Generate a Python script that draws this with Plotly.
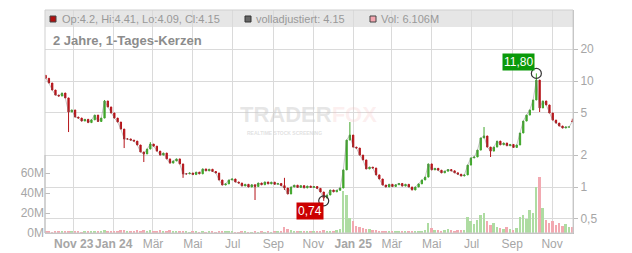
import numpy as np
import pandas as pd
import plotly.graph_objects as go

# ---------------- data ----------------
start_date = "2023-09-19"
step = "5D"

close = [
    10.6, 9.57, 8.22, 7.37, 7.21, 7.70, 6.92, 5.10, 5.33, 4.57,
    4.47, 4.19, 4.35, 4.05, 4.30, 4.77, 4.15, 4.47, 6.48, 5.69,
    4.99, 4.47, 4.10, 3.52, 2.84, 2.84, 2.77, 2.71, 2.49, 2.14,
    2.05, 2.28, 2.54, 2.43, 2.18, 2.00, 2.09, 1.84, 1.68, 1.76,
    1.84, 1.65, 1.33, 1.33, 1.355, 1.31, 1.38, 1.33, 1.48, 1.42,
    1.47, 1.40, 1.355, 1.164, 1.044, 1.07, 1.164, 1.19, 1.115, 1.09,
    1.022, 1.06, 1.00, 1.05, 1.01, 1.09, 1.05, 1.115, 1.07, 1.11,
    1.06, 1.08, 1.03, 0.978, 0.859, 1.0, 1.04, 0.99, 1.03, 0.98,
    1.02, 0.99, 1.01, 0.97, 0.897, 0.787, 0.84, 0.937, 0.90, 0.93,
    0.978, 1.45, 2.77, 3.09, 2.38, 2.33, 2.00, 1.80, 1.48, 1.54,
    1.51, 1.30, 1.19, 1.044, 1.00, 1.06, 1.01, 1.05, 1.08, 1.02,
    1.06, 1.0, 0.937, 1.0, 1.07, 1.164, 1.24, 1.65, 1.45, 1.50,
    1.44, 1.36, 1.41, 1.46, 1.42, 1.36, 1.32, 1.27, 1.30, 1.61,
    1.88, 1.92, 2.23, 2.90, 3.03, 2.38, 2.18, 2.38, 2.71, 2.50,
    2.60, 2.45, 2.52, 2.36, 2.49, 3.23, 4.19, 4.77, 5.33, 6.62,
    10.2, 5.57, 6.48, 5.94, 4.99, 4.28, 4.01, 3.76, 3.60, 3.68,
    3.68, 4.15,
]
first_open = 11.3
last_open = 4.2

wick_high = {18: 6.62, 32: 2.65, 73: 1.22, 93: 4.10, 134: 3.68, 150: 11.80, 161: 4.41}
wick_low = {7: 3.30, 24: 2.33, 30: 1.72, 42: 1.22, 64: 0.754, 73: 0.937, 85: 0.74,
            136: 1.92, 151: 5.10, 161: 4.09}

volume_m = [
    1.2, 1.5, 1.0, 1.8, 1.3, 1.1, 2.0, 2.5, 1.6, 1.4, 1.2, 1.0, 1.3, 1.5, 1.2, 1.8, 1.4, 2.2,
    3.0, 2.2, 1.8, 2.5, 2.0, 2.8, 3.2, 2.4, 2.0, 1.8, 2.6, 2.2, 3.0, 2.4, 3.5, 2.0, 1.8, 2.6,
    2.0, 2.4, 2.8, 2.0, 1.6,
    1.5, 2.0, 1.2, 1.0, 1.4, 1.1, 0.9, 1.3, 1.0, 1.5, 1.2, 1.0, 1.6, 1.3, 1.1, 2.0, 1.2, 1.0,
    0.9, 1.1, 1.3, 1.0, 0.8, 1.2, 1.0, 1.1, 0.9, 1.3, 1.0, 1.2, 1.4, 1.1,
    6.0, 4.0, 3.0, 2.0, 1.8, 1.5, 2.2, 1.6, 1.4, 1.8, 2.0, 2.5, 3.0, 2.5, 2.0, 2.2, 3.0, 4.0,
    42, 38, 15, 12, 7, 6, 5, 4, 4, 3.5, 3,
    2.5, 2.0, 1.8, 2.2, 1.5, 2.0, 1.8, 1.6, 2.0, 1.5, 2.2, 1.8, 2.0, 2.5, 3.0,
    10, 5, 3.5, 3, 2.5, 3, 4, 3, 2.5, 3, 2.8, 3.5,
    16, 12, 9, 13, 18, 20, 12, 8, 10, 6, 5, 4, 6, 4, 3.5, 5,
    16, 18, 14, 23, 20, 46, 56, 25, 13, 10, 12, 8, 10, 7, 9, 6, 6.1,
]

tick_dates = ["2023-11-01", "2024-01-01", "2024-03-01", "2024-05-01", "2024-07-01",
              "2024-09-01", "2024-11-01", "2025-01-01", "2025-03-01", "2025-05-01",
              "2025-07-01", "2025-09-01", "2025-11-01"]
tick_text = ["<b>Nov 23</b>", "<b>Jan 24</b>", "Mär", "Mai", "Jul", "Sep", "Nov",
             "<b>Jan 25</b>", "Mär", "Mai", "Jul", "Sep", "Nov"]
price_ticks = [0.5, 1, 2, 5, 10, 20]
price_labels = ["0,5", "1", "2", "5", "10", "20"]
vol_ticks = [0, 20, 40, 60]
vol_labels = ["0M", "20M", "40M", "60M"]

min_idx, min_val, min_label = 85, 0.74, "0,74"
max_idx, max_val, max_label = 150, 11.80, "11,80"

header_ohlc = "Op:4.2, Hi:4.41, Lo:4.09, Cl:4.15"
header_adj = "volladjustiert: 4.15"
header_vol = "Vol: 6.106M"
title_text = "2 Jahre, 1-Tages-Kerzen"

# ---------------- derived OHLC ----------------
dates = pd.date_range(start_date, periods=len(close), freq=step)
open_ = [first_open] + close[:-1]
open_[-1] = last_open
high = [max(o, c) for o, c in zip(open_, close)]
low = [min(o, c) for o, c in zip(open_, close)]
for k, v in wick_high.items():
    high[k] = max(high[k], v)
for k, v in wick_low.items():
    low[k] = min(low[k], v)

GREEN = "#3fa62a"
RED = "#b5141a"
vol_colors = ["#aedca2" if c >= o else "#f2a9b1" for o, c in zip(open_, close)]

# ---------------- layout geometry ----------------
W, H = 632, 253
L, R, T, B = 45, 59, 10, 20
PW, PH = W - L - R, H - T - B


def fx(px):
    return (px - L) / PW


def fy(py):
    return (H - B - py) / PH


FONT = "Liberation Sans, Arial, sans-serif"
GRID = "#dadada"
TXT = "#a6a6a6"

fig = go.Figure()

fig.add_trace(go.Bar(
    x=dates, y=volume_m, yaxis="y", marker=dict(color=vol_colors, line=dict(width=0)),
    width=3 * 86400000, hoverinfo="skip", showlegend=False))

fig.add_trace(go.Scatter(
    x=dates, y=close, yaxis="y2", mode="lines",
    line=dict(color="rgba(110,110,110,0.4)", width=1), hoverinfo="skip", showlegend=False))

fig.add_trace(go.Candlestick(
    x=dates, open=open_, high=high, low=low, close=close, yaxis="y2",
    increasing=dict(line=dict(color=GREEN, width=1), fillcolor=GREEN),
    decreasing=dict(line=dict(color=RED, width=1), fillcolor=RED),
    whiskerwidth=0, showlegend=False))

fig.add_trace(go.Scatter(
    x=[dates[min_idx], dates[max_idx]], y=[min_val, max_val], yaxis="y2", mode="markers",
    marker=dict(symbol="circle-open", size=10, color="#333", line=dict(width=1.2)),
    hoverinfo="skip", showlegend=False))

shapes = [
    dict(type="rect", xref="paper", yref="paper", x0=0, x1=1, y0=fy(27), y1=1,
         fillcolor="#e6e6e6", line=dict(width=0), layer="below"),
    dict(type="rect", xref="paper", yref="paper", x0=0, x1=1, y0=0, y1=1,
         fillcolor="rgba(0,0,0,0)", line=dict(color="#cfcfcf", width=1), layer="above"),
    dict(type="line", xref="paper", yref="paper", x0=0, x1=0, y0=0, y1=fy(155),
         line=dict(color="#bdbdbd", width=1)),
    dict(type="rect", xref="paper", yref="paper", x0=fx(50), x1=fx(56), y0=fy(22), y1=fy(16),
         fillcolor="#b01010", line=dict(color="#444", width=1)),
    dict(type="rect", xref="paper", yref="paper", x0=fx(245), x1=fx(251), y0=fy(22), y1=fy(16),
         fillcolor="#666666", line=dict(color="#333", width=1)),
    dict(type="rect", xref="paper", yref="paper", x0=fx(370), x1=fx(376), y0=fy(22), y1=fy(16),
         fillcolor="#f4a6b0", line=dict(color="#444", width=1)),
]

annotations = [
    dict(xref="paper", yref="paper", x=fx(60), y=fy(19), xanchor="left", yanchor="middle",
         text=header_ohlc, showarrow=False, font=dict(family=FONT, size=11, color="#999")),
    dict(xref="paper", yref="paper", x=fx(254), y=fy(19), xanchor="left", yanchor="middle",
         text=header_adj, showarrow=False, font=dict(family=FONT, size=11, color="#999")),
    dict(xref="paper", yref="paper", x=fx(379), y=fy(19), xanchor="left", yanchor="middle",
         text=header_vol, showarrow=False, font=dict(family=FONT, size=11, color="#999")),
    dict(xref="paper", yref="paper", x=fx(51), y=fy(40), xanchor="left", yanchor="middle",
         text="<b>" + title_text + "</b>", showarrow=False,
         font=dict(family=FONT, size=13, color="#8c8c8c")),
    dict(xref="paper", yref="paper", x=fx(308), y=fy(114), xanchor="center", yanchor="middle",
         text="<b>TRADER<span style='color:rgba(245,185,185,0.5)'>FOX</span></b>",
         showarrow=False, font=dict(family=FONT, size=22, color="rgba(200,200,200,0.45)")),
    dict(xref="paper", yref="paper", x=fx(284), y=fy(133), xanchor="center", yanchor="middle",
         text="<b>REALTIME STOCK SCREENING</b>", showarrow=False,
         font=dict(family=FONT, size=5, color="rgba(200,200,200,0.55)")),
    dict(xref="x", yref="y2", x=dates[min_idx], y=np.log10(min_val), text=min_label,
         showarrow=False, xshift=-14, yshift=-10, bgcolor="#cc0000", borderpad=1,
         font=dict(family=FONT, size=12, color="white")),
    dict(xref="x", yref="y2", x=dates[max_idx], y=np.log10(max_val), text=max_label,
         showarrow=False, xshift=-18, yshift=11, bgcolor="#0a9a0a", borderpad=1,
         font=dict(family=FONT, size=12, color="white")),
]

fig.update_layout(
    width=W, height=H, margin=dict(l=L, r=R, t=T, b=B, pad=0, autoexpand=False),
    paper_bgcolor="white", plot_bgcolor="white", showlegend=False,
    font=dict(family=FONT, size=12, color=TXT),
    shapes=shapes, annotations=annotations,
    xaxis=dict(type="date", range=["2023-09-18", "2025-12-03"], tickvals=tick_dates,
               ticktext=tick_text, tickangle=0, automargin=False,
               showgrid=True, gridcolor=GRID, gridwidth=1,
               showline=True, linecolor="#bdbdbd", ticks="", zeroline=False,
               rangeslider=dict(visible=False), tickfont=dict(size=12, color=TXT)),
    yaxis=dict(range=[0, PH], tickvals=vol_ticks, ticktext=vol_labels, side="left",
               automargin=False, ticks="inside", ticklen=5, tickcolor="#bdbdbd",
               showgrid=False, showline=False, zeroline=False,
               tickfont=dict(size=12, color=TXT)),
    yaxis2=dict(type="log", overlaying="y", side="right", automargin=False,
                range=[(187 - 233) / 106, (187 - 10) / 106],
                tickvals=price_ticks, ticktext=price_labels, showgrid=True, gridcolor=GRID,
                ticks="outside", ticklen=4, tickcolor="#bdbdbd", showline=True,
                linecolor="#bdbdbd", zeroline=False, tickfont=dict(size=12, color=TXT)),
    bargap=0,
    boxgap=0.45,
)

fig.write_html("out.html")
